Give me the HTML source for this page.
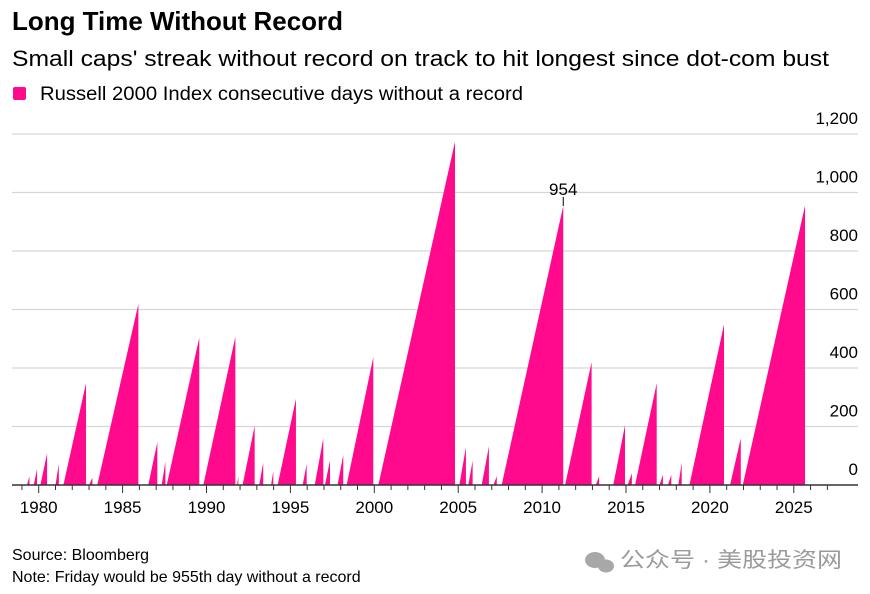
<!DOCTYPE html>
<html><head><meta charset="utf-8"><style>
body{margin:0;background:#fff;}
svg{display:block;font-family:"Liberation Sans","Noto Sans CJK SC",sans-serif;}
</style></head><body>
<svg id="chart" width="870" height="594" viewBox="0 0 870 594">
<text x="12" y="30" font-size="26" font-weight="bold" fill="#000" textLength="331" lengthAdjust="spacingAndGlyphs">Long Time Without Record</text>
<text x="12" y="66" font-size="22" fill="#000" textLength="817" lengthAdjust="spacingAndGlyphs">Small caps' streak without record on track to hit longest since dot-com bust</text>
<rect x="13" y="87" width="13" height="13" rx="2" fill="#ff0a8c"/>
<text x="40" y="100" font-size="19" fill="#000" textLength="483" lengthAdjust="spacingAndGlyphs">Russell 2000 Index consecutive days without a record</text>
<g id="grid"></g>
<path id="area" fill="#ff0a8c"></path>
<g id="xaxis"></g>
<g id="annot"></g>
<text x="12" y="560" font-size="16" fill="#000">Source: Bloomberg</text>
<text x="12" y="582" font-size="16" fill="#000">Note: Friday would be 955th day without a record</text>
<g>
<ellipse cx="595" cy="560" rx="10" ry="8" fill="#a8a8a8"/><ellipse cx="606" cy="566" rx="8" ry="6.5" fill="#a8a8a8"/>
<text x="620" y="567" font-size="21" fill="#9a9a9a" textLength="222" lengthAdjust="spacingAndGlyphs">公众号 · 美股投资网</text>
</g>
</svg>
<script>
const yTicks=[0,200,400,600,800,1000,1200];
const xYears=[1980,1985,1990,1995,2000,2005,2010,2015,2020,2025];
const streakStart=[1979.3,1979.7,1980.1,1981.0,1981.47,1983.0,1983.49,1986.53,1987.33,1987.63,1989.81,1991.82,1992.15,1993.14,1993.85,1994.24,1995.73,1996.45,1997.06,1997.81,1998.35,2000.24,2005.07,2005.6,2006.4,2007.1,2007.59,2011.37,2013.2,2014.24,2015.1,2015.54,2017.0,2017.5,2018.12,2018.78,2021.2,2021.96];
const streakEnd=[1979.45,1979.9,1980.5,1981.2,1982.82,1983.2,1985.94,1987.07,1987.55,1989.57,1991.72,1991.9,1992.87,1993.38,1993.98,1995.33,1995.97,1996.96,1997.36,1998.15,1999.94,2004.81,2005.46,2005.86,2006.83,2007.3,2011.26,2012.95,2013.4,2014.94,2015.35,2016.83,2017.2,2017.7,2018.32,2020.84,2021.84,2025.67];
const streakPeak=[30,54,108,72,348,25,619,146,80,504,507,30,202,76,48,295,72,160,84,103,437,1174,129,83,132,30,954,420,30,204,40,348,35,35,76,549,160,955];
const annotYear=2011.26, annotValue=954, annotLabel="954";
const NS="http://www.w3.org/2000/svg";
const X0=38.7,PX_YEAR=16.78,Y0=485,PX_UNIT=351/1200;
const xs=y=>X0+(y-1980)*PX_YEAR;
const ys=v=>Y0-v*PX_UNIT;
function mk(t,a,p){const e=document.createElementNS(NS,t);for(const k in a)e.setAttribute(k,a[k]);p.appendChild(e);return e;}
const grid=document.getElementById('grid');
yTicks.forEach(v=>{
 if(v>0){const l=mk('line',{x1:12,x2:858,y1:ys(v),y2:ys(v),stroke:'#d6d6d6','stroke-width':1.3},grid);
 
 }
 const t=mk('text',{x:858,y:ys(v)-10,'font-size':17,'text-anchor':'end',fill:'#000'},grid);
 t.textContent=v.toLocaleString('en-US');
 
 
});
let d='';
for(let i=0;i<streakPeak.length;i++){
 d+=`M${xs(streakStart[i]).toFixed(2)},${Y0} L${xs(streakEnd[i]).toFixed(2)},${ys(streakPeak[i]).toFixed(2)} L${xs(streakEnd[i]).toFixed(2)},${Y0} Z `;
}
document.getElementById('area').setAttribute('d',d);
const xa=document.getElementById('xaxis');
const base=mk('line',{x1:12,x2:858,y1:Y0,y2:Y0,stroke:'#333','stroke-width':1.5},xa);


for(let y=1979;y<=2027;y++){
 const major=xYears.includes(y);
 const tk=mk('line',{x1:xs(y),x2:xs(y),y1:Y0,y2:Y0+(major?8:5),stroke:'#333','stroke-width':1},xa);
 
 
}
xYears.forEach(y=>{
 const t=mk('text',{x:xs(y),y:513,'font-size':17,'text-anchor':'middle',fill:'#000'},xa);
 t.textContent=y;
 
 
});
const an=document.getElementById('annot');
const al=mk('line',{x1:xs(annotYear),x2:xs(annotYear),y1:ys(annotValue)-9,y2:ys(annotValue),stroke:'#000','stroke-width':1},an);


const at=mk('text',{x:xs(annotYear),y:ys(annotValue)-11,'font-size':17,'text-anchor':'middle',fill:'#000'},an);
at.textContent=annotLabel;


</script>
</body></html>
